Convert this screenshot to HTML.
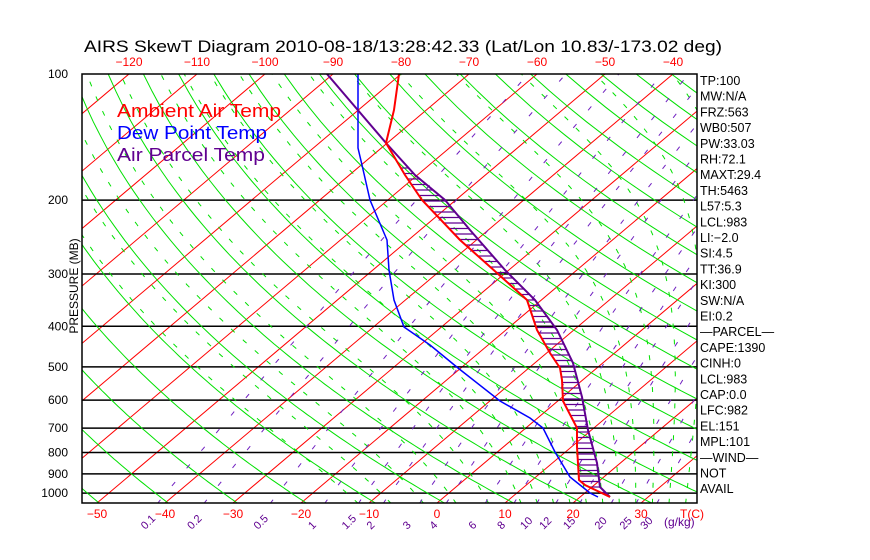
<!DOCTYPE html>
<html><head><meta charset="utf-8"><style>
html,body{margin:0;padding:0;background:#fff;}
svg{display:block;font-family:"Liberation Sans",sans-serif;}
</style></head><body>
<svg id="s" width="870" height="560" xmlns="http://www.w3.org/2000/svg">
<defs><clipPath id="c"><rect x="82" y="74" width="615" height="429"/></clipPath></defs>
<g id="grid" clip-path="url(#c)"></g>
<g id="prof" clip-path="url(#c)"></g>
<rect x="82" y="74" width="615" height="429" fill="none" stroke="#000" stroke-width="1.5"/>
<text x="84" y="52" font-size="17" fill="#000" textLength="638" lengthAdjust="spacingAndGlyphs">AIRS SkewT Diagram 2010-08-18/13:28:42.33 (Lat/Lon 10.83/-173.02 deg)</text>
<g font-size="18">
<text x="117" y="117" fill="#ff0000" textLength="164" lengthAdjust="spacingAndGlyphs">Ambient Air Temp</text>
<text x="117" y="139" fill="#0000ff" textLength="150" lengthAdjust="spacingAndGlyphs">Dew Point Temp</text>
<text x="117" y="161" fill="#600090" textLength="148" lengthAdjust="spacingAndGlyphs">Air Parcel Temp</text>
</g>
<text transform="translate(78,286) rotate(-90)" font-size="12" text-anchor="middle">PRESSURE (MB)</text>
<g id="txt"></g>
</svg>
<script>
var NS="http://www.w3.org/2000/svg";
function el(par,tag,at,txt){var e=document.createElementNS(NS,tag);for(var k in at)e.setAttribute(k,at[k]);if(txt!=null)e.textContent=txt;document.getElementById(par).appendChild(e);return e;}
function Y(p){return 74+182*Math.log(p/100);}
function X(T,y){return 437+6.8*T+1.184*(503-y);}
function pt(T,p){var y=Y(p);return X(T,y).toFixed(1)+","+y.toFixed(1);}
var pb=1060;
for(var T=-160;T<=50;T+=10){el("grid","path",{d:"M"+pt(T,pb)+" L"+pt(T,95),stroke:"#ff0000","stroke-width":1,fill:"none"});}
[200,300,400,500,600,700,800,900,1000].forEach(function(p){var y=Y(p);el("grid","line",{x1:82,x2:697,y1:y,y2:y,stroke:"#000","stroke-width":1.5});});
for(var th=200;th<=520;th+=10){var d="";for(var p=pb;p>=95;p-=10){var T=th*Math.pow(p/1000,0.286)-273.15;d+=(d?"L":"M")+pt(T,p);}el("grid","path",{d:d,stroke:"#00e000","stroke-width":1,fill:"none"});}
function es(T){return 6.112*Math.exp(17.67*T/(T+243.5));}
var t0s=[-15,-10,-5,0,5,10,12.5,15,17.5,20,22.5,25,27.5,30,32.5,35,37.5,40,42.5,45];
t0s.forEach(function(t0){
 var pts=[];var Tt=t0;for(var pp=1000;pp<pb;pp+=2){var Tk=Tt+273.15,w=0.622*es(Tt)/(pp-es(Tt));var g=(287*Tk+2.5e6*w)/(pp*(1004+2.5e6*2.5e6*w*0.622/(287*Tk*Tk)));Tt+=g*2;}
 var T=Tt;for(var p=pb;p>=100;p-=2){pts.push(pt(T,p));var Tk=T+273.15,w=0.622*es(T)/(p-es(T));var g=(287*Tk+2.5e6*w)/(p*(1004+2.5e6*2.5e6*w*0.622/(287*Tk*Tk)));T-=g*2;}
 el("grid","path",{d:"M"+pts.join("L"),stroke:"#00e000","stroke-width":1,fill:"none","stroke-dasharray":"5,11"});});
var ws=[0.1,0.2,0.5,1,1.5,2,3,4,6,8,10,12,15,20,25,30];
function Td(w,p){var e=w/1000*p/(0.622+w/1000);var l=Math.log(e/6.112);return 243.5*l/(17.67-l);}
ws.forEach(function(w){var d="";for(var p=pb;p>=100;p-=10){d+=(d?"L":"M")+pt(Td(w,p),p);}
 el("grid","path",{d:d,stroke:"#7020c0","stroke-width":1,fill:"none","stroke-dasharray":"5,18"});
 var xb=X(Td(w,pb),Y(pb))-12;el("txt","text",{x:xb,y:530,"font-size":11,fill:"#600090",transform:"rotate(-45 "+xb+" 530)"},String(w));});
el("txt","text",{x:664,y:526,"font-size":12,fill:"#600090"},"(g/kg)");
var xoff=401-X(-80,74);
for(var T=-120;T<=-40;T+=10){el("txt","text",{x:X(T,74)+xoff,y:66,"font-size":12,fill:"#ff0000","text-anchor":"middle"},"\u2212"+(-T));}
for(var T=-50;T<=30;T+=10){el("txt","text",{x:437+6.8*T,y:518,"font-size":12,fill:"#ff0000","text-anchor":"middle"},(T<0?"\u2212"+(-T):String(T)));}
el("txt","text",{x:680,y:518,"font-size":12,fill:"#ff0000"},"T(C)");
[100,200,300,400,500,600,700,800,900,1000].forEach(function(p){el("txt","text",{x:68,y:Y(p)+4,"font-size":12,"text-anchor":"end"},String(p));});
var R=["TP:100","MW:N/A","FRZ:563","WB0:507","PW:33.03","RH:72.1","MAXT:29.4","TH:5463","L57:5.3","LCL:983","LI:\u22122.0","SI:4.5","TT:36.9","KI:300","SW:N/A","EI:0.2","\u2014PARCEL\u2014","CAPE:1390","CINH:0","LCL:983","CAP:0.0","LFC:982","EL:151","MPL:101","\u2014WIND\u2014","NOT","AVAIL"];
R.forEach(function(s,i){el("txt","text",{x:700,y:85+i*15.7,"font-size":12.5},s);});
var tmp=[[399,74],[394,110],[386,143],[405,175],[422,200],[460,240],[497,273],[527,300],[537,330],[550,353],[560,368],[562,380],[563,401],[577,428],[577,447],[579,480],[585,485],[610,497]];
var par=[[327,74],[386,143],[415,175],[445,200],[470,230],[505,270],[535,300],[557,330],[573,363],[582,397],[588,430],[597,463],[600,487],[610,497]];
var dew=[[358,74],[358,148],[362,165],[370,200],[387,240],[389,270],[394,300],[404,327],[430,345],[458,368],[500,401],[530,418],[543,428],[555,452],[570,477],[590,493],[598,497]];
function ix(a,y){for(var i=0;i<a.length-1;i++){if(y>=a[i][1]&&y<=a[i+1][1]){var f=(y-a[i][1])/(a[i+1][1]-a[i][1]||1);return a[i][0]+f*(a[i+1][0]-a[i][0]);}}return null;}
for(var y=168;y<=494;y+=5.5){var a=ix(tmp,y),b=ix(par,y);if(a!=null&&b!=null&&b>a+1)el("prof","line",{x1:a,x2:b,y1:y,y2:y,stroke:"#600090","stroke-width":1.2});}
function pl(a,c,w){el("prof","polyline",{points:a.map(function(q){return q.join(",")}).join(" "),stroke:c,"stroke-width":w,fill:"none"});}
pl(dew,"#0000ff",1.5);pl(par,"#600090",2);pl(tmp,"#ff0000",2);
</script>
</body></html>
